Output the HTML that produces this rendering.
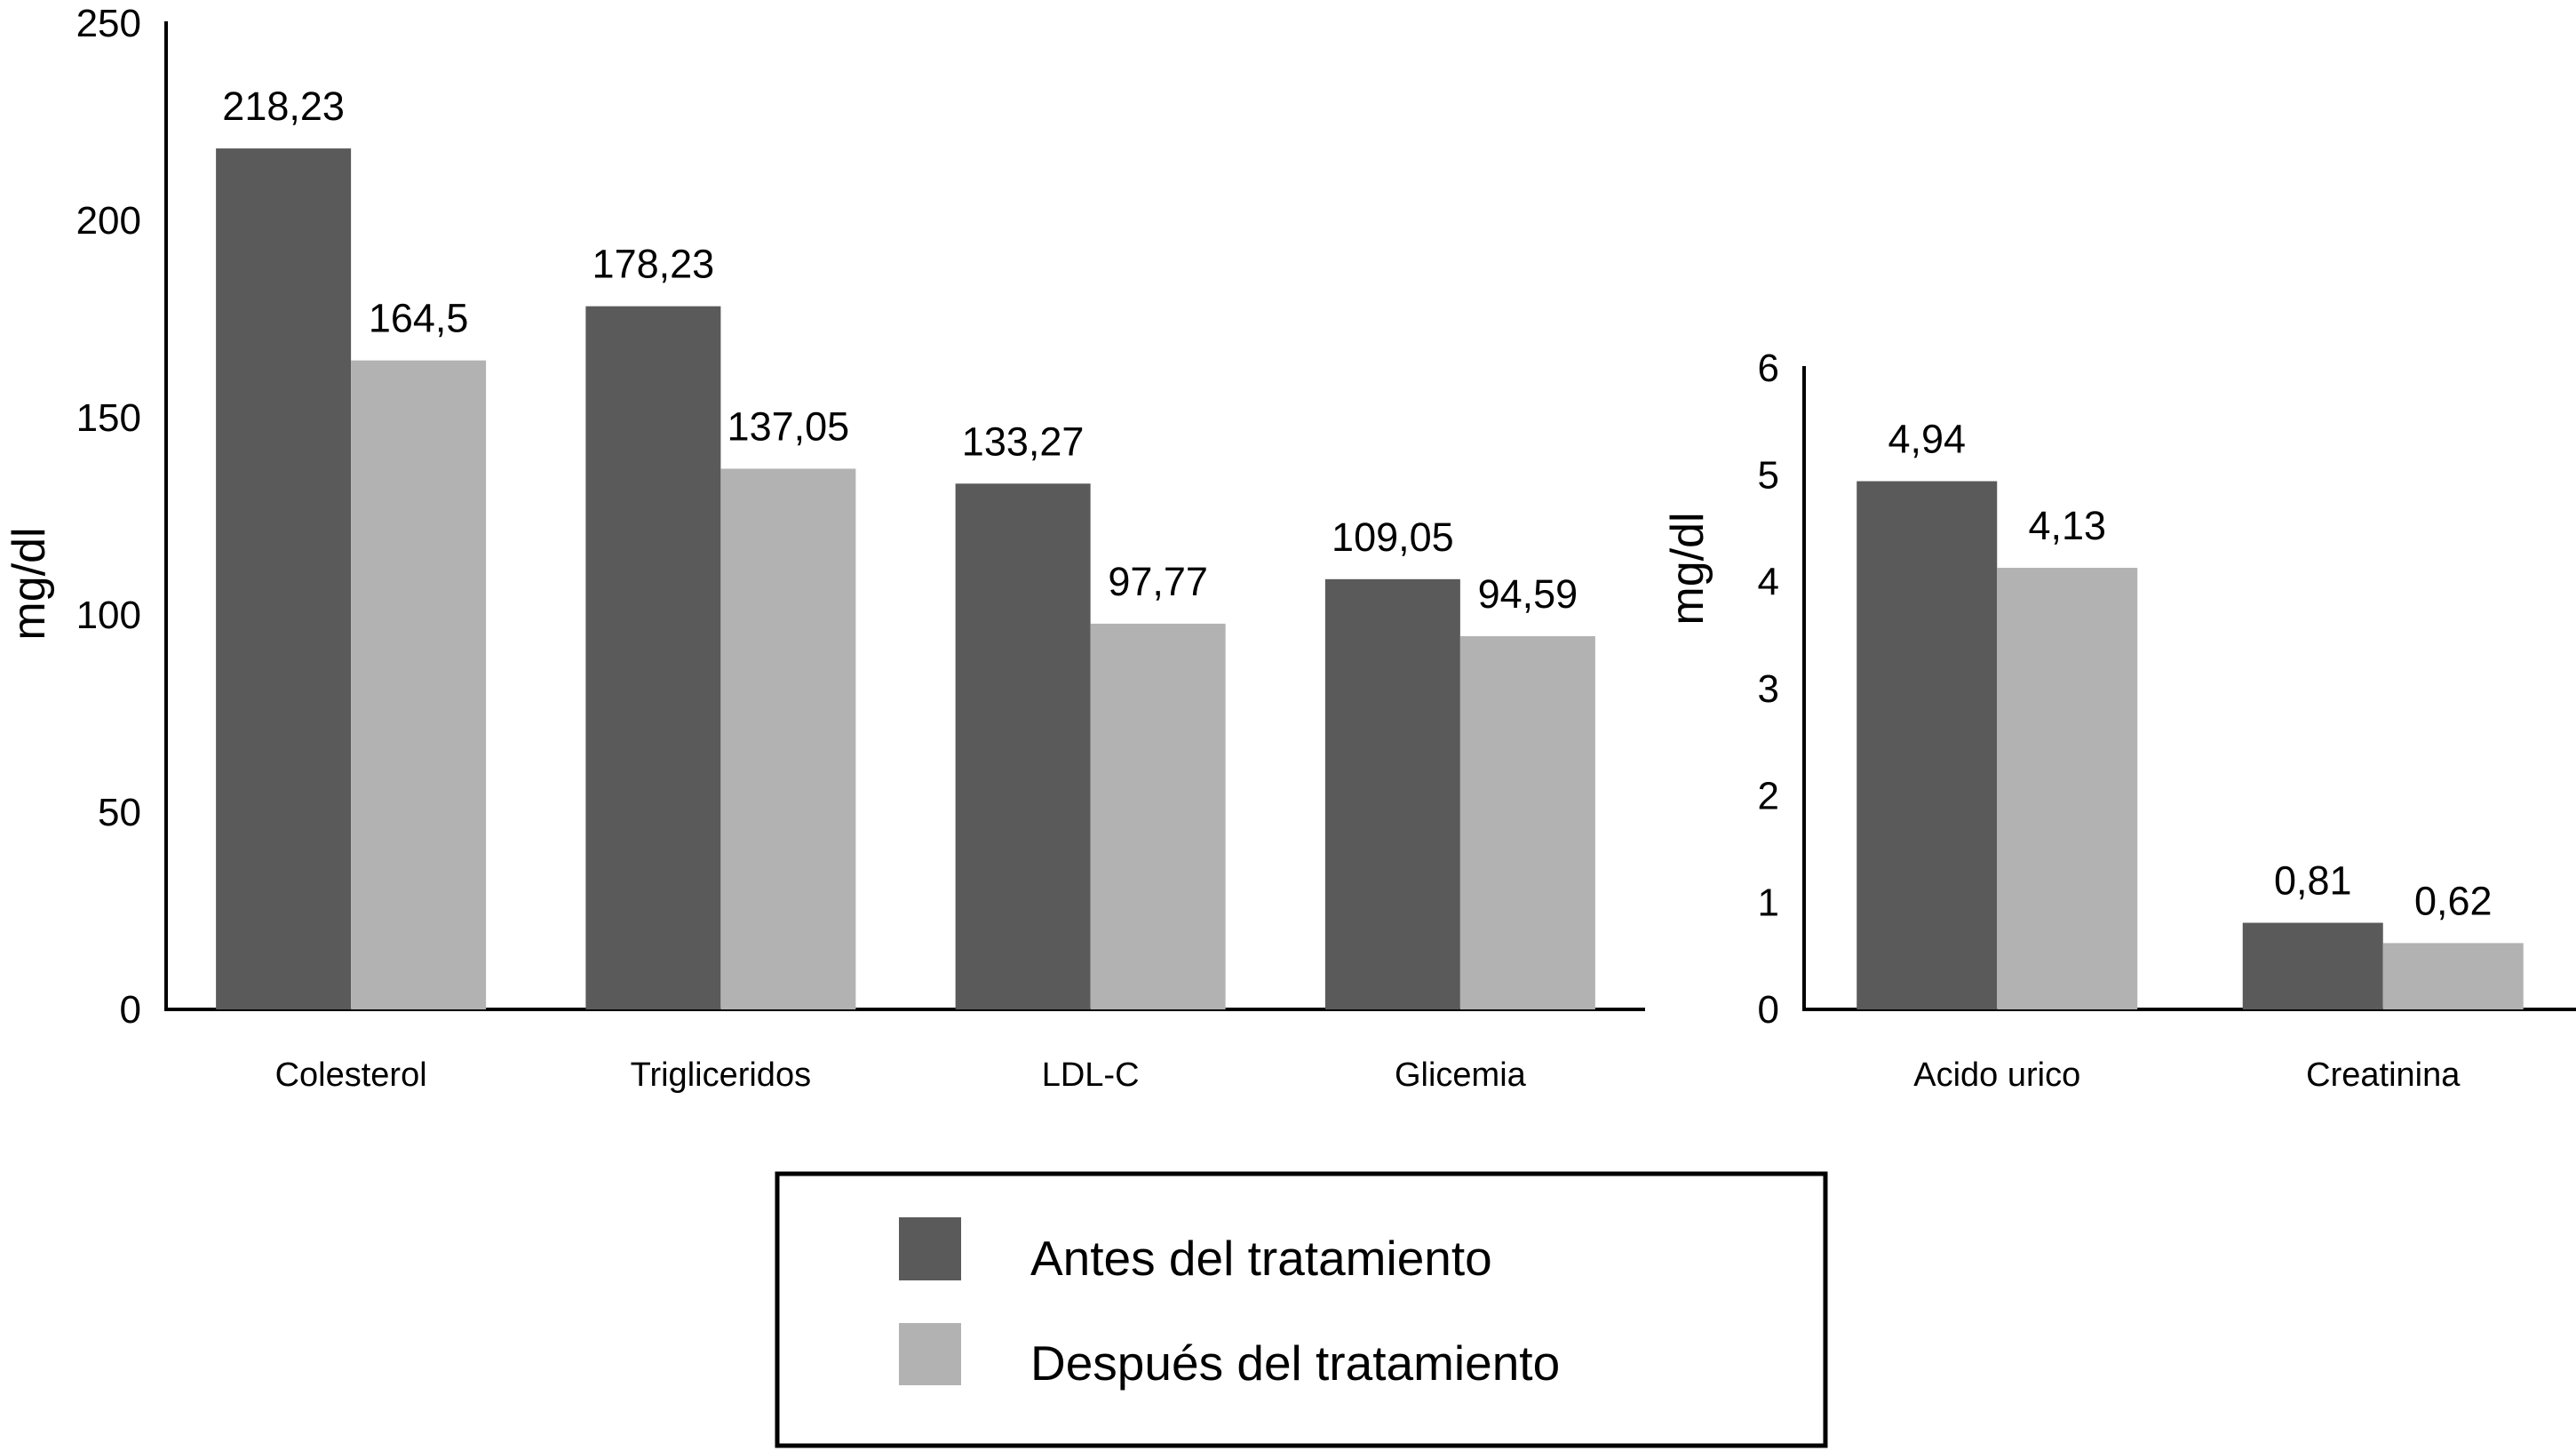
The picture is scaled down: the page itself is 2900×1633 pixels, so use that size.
<!DOCTYPE html>
<html><head><meta charset="utf-8"><style>
html,body{margin:0;padding:0;background:#fff;}
svg{display:block;font-family:"Liberation Sans",sans-serif;}
</style></head><body>
<svg id="chart" width="2900" height="1633" viewBox="0 0 2900 1633"></svg>
<script>
const catsL = ["Colesterol","Trigliceridos","LDL-C","Glicemia"];
const antesL = [218.23,178.23,133.27,109.05];
const despL = [164.5,137.05,97.77,94.59];
const labAntesL = ["218,23","178,23","133,27","109,05"];
const labDespL = ["164,5","137,05","97,77","94,59"];
const ticksL = [0,50,100,150,200,250];
const catsR = ["Acido urico","Creatinina"];
const antesR = [4.94,0.81];
const despR = [4.13,0.62];
const labAntesR = ["4,94","0,81"];
const labDespR = ["4,13","0,62"];
const ticksR = [0,1,2,3,4,5,6];

const NS="http://www.w3.org/2000/svg";
const svg=document.getElementById('chart');
function mk(t,a,txt){const e=document.createElementNS(NS,t);for(const k in a)e.setAttribute(k,a[k]);if(txt!==undefined)e.textContent=txt;svg.appendChild(e);return e;}

function panel(cfg){
  const y=v=>cfg.base-(v/cfg.max)*(cfg.base-cfg.top);
  const ax=mk('line',{x1:cfg.x0,y1:cfg.top-2,x2:cfg.x0,y2:cfg.base+2,stroke:'#000','stroke-width':4});
  
  
  const bx=mk('line',{x1:cfg.x0-2,y1:cfg.base,x2:cfg.x1,y2:cfg.base,stroke:'#000','stroke-width':4});
  
  
  cfg.ticks.forEach(t=>{
    const e=mk('text',{x:cfg.x0-28,y:y(t)+15,'text-anchor':'end','font-size':44},String(t));
    
    
  });
  const band=(cfg.x1-cfg.x0)/cfg.cats.length;
  cfg.cats.forEach((c,i)=>{
    const cx=cfg.x0+band*i+band/2;
    const a=mk('rect',{x:cx-cfg.bw,y:y(cfg.a[i]),width:cfg.bw,height:cfg.base-y(cfg.a[i]),fill:'#5a5a5a'});
    
    
    const d=mk('rect',{x:cx,y:y(cfg.d[i]),width:cfg.bw,height:cfg.base-y(cfg.d[i]),fill:'#b2b2b2'});
    
    
    const la=mk('text',{x:cx-cfg.bw/2,y:y(cfg.a[i])-32,'text-anchor':'middle','font-size':45},cfg.la[i]);
    
    
    const ld=mk('text',{x:cx+cfg.bw/2,y:y(cfg.d[i])-32,'text-anchor':'middle','font-size':45},cfg.ld[i]);
    
    
    const cl=mk('text',{x:cx,y:1222,'text-anchor':'middle','font-size':38},c);
    
    
  });
  const yt=mk('text',{x:0,y:0,'text-anchor':'middle','font-size':52,transform:`translate(${cfg.tx},${cfg.ty}) rotate(-90)`},'mg/dl');
  
  
}
panel({id:'left',cats:catsL,a:antesL,d:despL,la:labAntesL,ld:labDespL,ticks:ticksL,max:250,x0:187,x1:1852,top:26,base:1136,bw:152,tx:50,ty:657});
panel({id:'right',cats:catsR,a:antesR,d:despR,la:labAntesR,ld:labDespR,ticks:ticksR,max:6,x0:2031,x1:2900,top:414,base:1136,bw:158,tx:1917,ty:640});

const lg=mk('rect',{x:875,y:1321,width:1180,height:306,fill:'none',stroke:'#000','stroke-width':5});


const s1=mk('rect',{x:1012,y:1370,width:70,height:71,fill:'#5a5a5a'});


const t1=mk('text',{x:1160,y:1435,'font-size':55},'Antes del tratamiento');


const s2=mk('rect',{x:1012,y:1489,width:70,height:70,fill:'#b2b2b2'});


const t2=mk('text',{x:1160,y:1553,'font-size':55},'Después del tratamiento');


</script>
</body></html>
